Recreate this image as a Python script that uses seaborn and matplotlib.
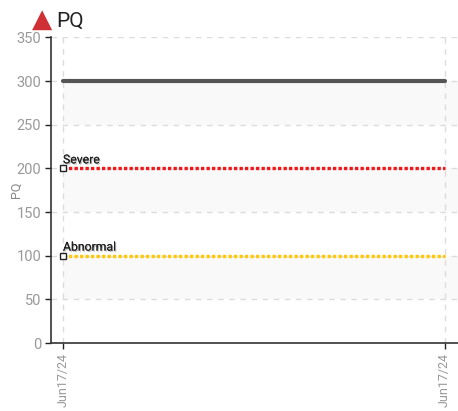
import matplotlib
matplotlib.use("Agg")
import matplotlib.pyplot as plt
import matplotlib.patheffects as pe
import seaborn as sns
import pandas as pd

dates = ["Jun17/24", "Jun17/24"]
x_pos = [0, 1]
top_line = [300, 300]
severe = [200, 200]
abnormal = [100, 100]
y_ticks = [0, 50, 100, 150, 200, 250, 300, 350]
bands = [(50, 100), (150, 200), (250, 300)]

sns.set_style("white")
plt.rcParams['font.family'] = ['Roboto', 'DejaVu Sans']

W, H = 458, 411
fig = plt.figure(figsize=(W / 100, H / 100), dpi=100)
L, R, T, B = 51, 458, 37.5, 343
ax = fig.add_axes([L / W, 1 - B / H, (R - L) / W, (B - T) / H])
x0, x1 = 63, 444.5
ax.set_xlim((L - x0) / (x1 - x0), (R - x0) / (x1 - x0))
ax.set_ylim(0, 350)

for lo, hi in bands:
    ax.axhspan(lo, hi, xmin=(x0 - L) / (R - L), xmax=1, color="#f9f9f9", lw=0, zorder=0)

ax.grid(True, color="#dcdcdc", linestyle=(0, (4, 4)), linewidth=1)
ax.set_axisbelow(True)

df = pd.DataFrame({"x": x_pos, "top": top_line, "severe": severe, "abnormal": abnormal})
sns.lineplot(data=df, x="x", y="top", ax=ax, color="#555555", linewidth=3, zorder=3)
sns.lineplot(data=df, x="x", y="severe", ax=ax, color="#f01818", linewidth=2.4,
             linestyle=(0, (1, 0.65)), zorder=3)
sns.lineplot(data=df, x="x", y="abnormal", ax=ax, color="#ffc90a", linewidth=2.4,
             linestyle=(0, (1, 0.65)), zorder=3)
ax.plot([0, 0], [severe[0], abnormal[0]], ls="none", marker="s", ms=4.5, mfc="white",
        mec="#222222", mew=1, zorder=4)

for v, label in [(severe[0], "Severe"), (abnormal[0], "Abnormal")]:
    ax.annotate(label, (0, v), xytext=(0, 1.5), textcoords="offset points", fontsize=8.8,
                color="#222222", ha="left", va="bottom", zorder=5,
                path_effects=[pe.withSimplePatchShadow(offset=(0.8, -0.8), shadow_rgbFace="#999999", alpha=0.7),
                              pe.Normal()])

ax.set_xticks(x_pos)
ax.set_xticklabels(dates, rotation=90, fontsize=9, color="#999999")
ax.set_yticks(y_ticks)
ax.set_yticklabels([str(v) for v in y_ticks], fontsize=10.5, color="#999999")
ax.tick_params(axis="both", length=4, width=1, color="#222222", pad=3, direction="out", bottom=True, left=True)
ax.set_xlabel("")
ax.set_ylabel("")

for s in ("top", "right"):
    ax.spines[s].set_visible(False)
for s in ("left", "bottom"):
    ax.spines[s].set_color("#333333")
    ax.spines[s].set_linewidth(1.2)

fig.text(16 / W, 1 - 190 / H, "PQ", fontsize=9, color="#888888", rotation=90, ha="center", va="center")
fig.text(56 / W, 1 - 27 / H, "PQ", fontsize=15, color="#222222", ha="left", va="baseline")
fig.text(42 / W, 1 - 26.5 / H, "\u25B2", fontsize=19, color="#cf3035", ha="center", va="baseline",
         family="DejaVu Sans")

fig.savefig("out.png", dpi=100)
